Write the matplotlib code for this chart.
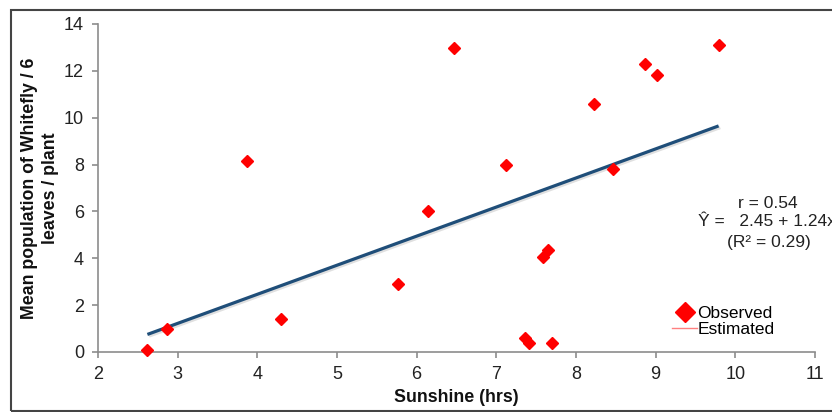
import matplotlib
matplotlib.use("Agg")
import matplotlib.pyplot as plt
from matplotlib.lines import Line2D
from matplotlib.patches import Rectangle
import matplotlib.patheffects as pe

plt.rcParams['font.family'] = ['Liberation Sans', 'DejaVu Sans']

sunshine = [2.62, 2.87, 3.87, 4.30, 5.76, 6.14, 6.47, 7.12, 7.36, 7.41,
            7.59, 7.65, 7.70, 8.22, 8.47, 8.86, 9.02, 9.79]
whitefly = [0.08, 0.97, 8.15, 1.40, 2.90, 6.03, 12.97, 7.99, 0.58, 0.40,
            4.07, 4.35, 0.37, 10.57, 7.81, 12.28, 11.81, 13.10]

# Estimated (regression) line end points
est_x = [2.62, 9.79]
est_y = [0.75, 9.65]

xticks = [2, 3, 4, 5, 6, 7, 8, 9, 10, 11]
yticks = [0, 2, 4, 6, 8, 10, 12, 14]

W, H = 832, 412
fig = plt.figure(figsize=(W / 100, H / 100), dpi=100)
ax = fig.add_axes([98 / W, 1 - 352 / H, (815 - 98) / W, (352 - 24) / H])

ax.plot(est_x, est_y, color='#1f4e79', lw=2.3, solid_capstyle='butt',
        path_effects=[pe.SimpleLineShadow(offset=(1.2, -1.2), alpha=0.12), pe.Normal()],
        zorder=2)
ax.plot(sunshine, whitefly, ls='none', marker='D', ms=6.5, color='#ff0000',
        mec='#ff0000', zorder=3, clip_on=False)

ax.set_xlim(2, 11)
ax.set_ylim(0, 14)
ax.set_xticks(xticks)
ax.set_yticks(yticks)
for s in ['top', 'right']:
    ax.spines[s].set_visible(False)
for s in ['left', 'bottom']:
    ax.spines[s].set_color('#8c8c8c')
    ax.spines[s].set_linewidth(1.2)
ax.tick_params(axis='both', colors='#8c8c8c', length=4, width=1.2,
               labelsize=13, labelcolor='#222222', pad=6)

fig.text(40 / W, 1 - 188 / H, 'Mean population of Whitefly / 6\nleaves / plant',
         rotation=90, ha='center', va='center', multialignment='center',
         fontsize=12.8, fontweight='bold', color='#111111', linespacing=1.25)
fig.text(456 / W, 1 - 398 / H, 'Sunshine (hrs)', ha='center', va='center',
         fontsize=12.8, fontweight='bold', color='#111111')

fig.text(768 / W, 1 - 203 / H, 'r = 0.54', ha='center', va='center',
         fontsize=12.5, color='#222222')
fig.text(698 / W, 1 - 222 / H, 'Ŷ =   2.45 + 1.24x', ha='left', va='center',
         fontsize=12.5, color='#222222')
fig.text(769 / W, 1 - 243 / H, '(R² = 0.29)', ha='center', va='center',
         fontsize=12.5, color='#222222')

handles = [Line2D([], [], ls='none', marker='D', ms=10.5, color='#ff0000'),
           Line2D([], [], color='#ff8080', lw=1.0)]
fig.legend(handles, ['Observed', 'Estimated'], loc='upper left',
           bbox_to_anchor=(672 / W, 1 - 306 / H), frameon=False,
           fontsize=12.5, handlelength=1.45, handletextpad=0.0,
           borderpad=0, borderaxespad=0, labelspacing=0.05)

fig.patches.append(Rectangle((11 / W, 1 / H), 1.0, 1 - 11 / H,
                             transform=fig.transFigure, fill=False,
                             edgecolor='#444444', lw=1.5, clip_on=False))

fig.savefig('out.png', dpi=100)
